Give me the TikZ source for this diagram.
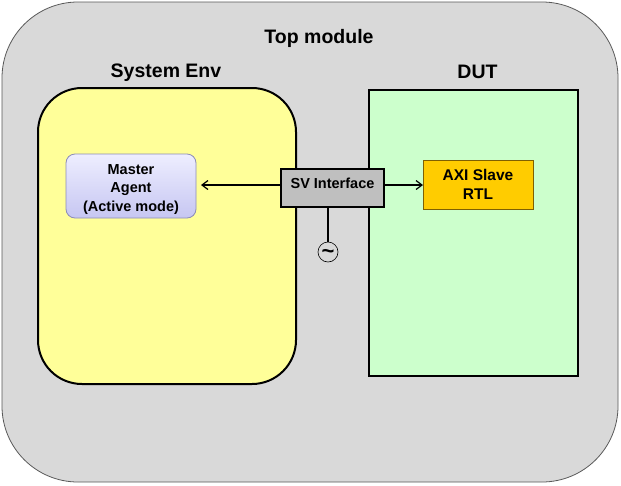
\documentclass[tikz,border=0pt]{standalone}
\usepackage{fontspec}
\setmainfont{Liberation Sans}
\usetikzlibrary{arrows.meta,shadings}
\definecolor{outerfill}{HTML}{D9D9D9}
\definecolor{outerline}{HTML}{595959}
\definecolor{envfill}{HTML}{FFFF99}
\definecolor{dutfill}{HTML}{CCFFCC}
\definecolor{svfill}{HTML}{BFBFBF}
\definecolor{axifill}{HTML}{FFCC00}
\definecolor{axiline}{HTML}{7F6000}
\definecolor{agtop}{HTML}{EEEEFF}
\definecolor{agbot}{HTML}{C6C6F2}
\definecolor{agline}{HTML}{8C8CB8}
\tikzset{
  every node/.style={inner sep=0pt, outer sep=0pt},
  heading/.style={font=\bfseries\fontsize{19.5}{22}\selectfont, anchor=base},
  small/.style={font=\bfseries\fontsize{14.5}{18.5}\selectfont, align=center},
  conn/.style={line width=1.2pt, -{Straight Barb[length=6pt,width=9pt]}},
}
\begin{document}
\begin{tikzpicture}[x=1pt,y=-1pt]
\useasboundingbox (0,0) rectangle (621,485);
\node[draw=outerline, line width=0.8pt, fill=outerfill, rounded corners=76pt,
      minimum width=616pt, minimum height=480pt] (top) at (310,242) {};
\node[heading] (toplbl) at (319,43) {Top module};
\node[draw=black, line width=2pt, fill=envfill, rounded corners=44pt,
      minimum width=258pt, minimum height=296pt] (env) at (167,236) {};
\node[heading] (envlbl) at (166,77) {System Env};
\node[draw=black, line width=2pt, fill=dutfill,
      minimum width=209pt, minimum height=286pt] (dut) at (473.5,233) {};
\node[heading] (dutlbl) at (477.5,78) {DUT};
\node[draw=agline, line width=0.8pt, top color=agtop, bottom color=agbot, rounded corners=9pt,
      minimum width=130pt, minimum height=64pt] (agent) at (131,186) {};
\node[small] (agentlbl) at (131,189.5) {Master\\Agent\\(Active mode)};
\node[draw=black, line width=1.5pt, fill=svfill,
      minimum width=103pt, minimum height=38pt] (sv) at (332.5,188) {};
\node[small] (svlbl) at (332.5,183) {SV Interface};
\node[draw=axiline, line width=0.9pt, fill=axifill,
      minimum width=110pt, minimum height=49pt] (axi) at (478,184.5) {};
\node[font=\bfseries\fontsize{15.5}{18.5}\selectfont, align=center] (axilbl) at (478,184.5) {AXI Slave\\RTL};
\node[draw=black, line width=0.6pt, circle, minimum size=20pt] (clk) at (328,252) {};
\node[font=\bfseries\fontsize{22}{22}\selectfont] (tilde) at (328,253.5) {\textasciitilde};
\coordinate (svbot) at (328,207);
\coordinate (svl) at (281,185);
\coordinate (svr) at (384,185);
\draw[conn] (svl) -- ([xshift=5pt]agent.east |- svl);
\draw[conn] (svr) -- (axi.west |- svr);
\draw[line width=1.2pt] (svbot) -- (clk.north);
\end{tikzpicture}
\end{document}
